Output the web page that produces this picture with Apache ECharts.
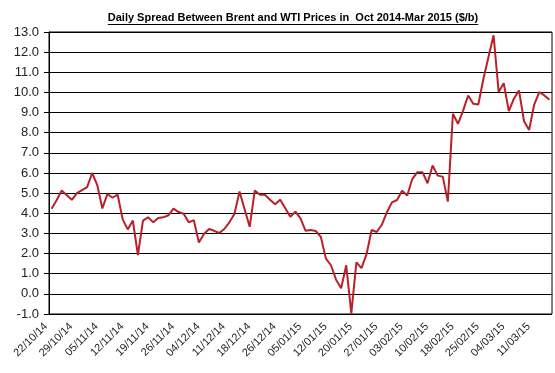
<!DOCTYPE html>
<html>
<head>
<meta charset="utf-8">
<script src="https://cdn.jsdelivr.net/npm/echarts@6/dist/echarts.min.js"></script>
<style>
html,body{margin:0;padding:0;background:#fff;}
#c{width:555px;height:373px;}
</style>
</head>
<body>
<div id="c"></div>
<script>
var titleText = 'Daily Spread Between Brent and WTI Prices in  Oct 2014-Mar 2015 ($/b)';

var dates = [
'22/10/14','23/10/14','24/10/14','27/10/14','28/10/14','29/10/14','30/10/14','31/10/14',
'03/11/14','04/11/14','05/11/14','06/11/14','07/11/14','10/11/14','11/11/14','12/11/14','13/11/14','14/11/14',
'17/11/14','18/11/14','19/11/14','20/11/14','21/11/14','24/11/14','25/11/14','26/11/14','28/11/14',
'01/12/14','02/12/14','03/12/14','04/12/14','05/12/14','08/12/14','09/12/14','10/12/14','11/12/14','12/12/14',
'15/12/14','16/12/14','17/12/14','18/12/14','19/12/14','22/12/14','23/12/14','24/12/14','26/12/14',
'29/12/14','30/12/14','31/12/14','02/01/15','05/01/15','06/01/15','07/01/15','08/01/15','09/01/15',
'12/01/15','13/01/15','14/01/15','15/01/15','16/01/15','20/01/15','21/01/15','22/01/15','23/01/15',
'26/01/15','27/01/15','28/01/15','29/01/15','30/01/15','02/02/15','03/02/15','04/02/15','05/02/15','06/02/15',
'09/02/15','10/02/15','11/02/15','12/02/15','13/02/15','17/02/15','18/02/15','19/02/15','20/02/15',
'23/02/15','24/02/15','25/02/15','26/02/15','27/02/15','02/03/15','03/03/15','04/03/15','05/03/15','06/03/15',
'09/03/15','10/03/15','11/03/15','12/03/15','13/03/15','16/03/15'
];

var spread = [
4.22,4.65,5.13,4.90,4.67,5.00,5.15,5.30,6.00,5.40,
4.24,4.96,4.77,4.93,3.70,3.20,3.64,1.93,3.64,3.80,
3.55,3.77,3.80,3.90,4.23,4.06,3.98,3.55,3.66,2.55,
2.97,3.22,3.13,3.02,3.22,3.55,3.97,5.08,4.20,3.33,
5.13,4.92,4.92,4.67,4.45,4.67,4.25,3.83,4.08,3.75,
3.13,3.17,3.12,2.83,1.75,1.42,0.70,0.28,1.42,-0.97,
1.56,1.28,1.97,3.17,3.07,3.43,4.05,4.54,4.66,5.12,
4.88,5.70,6.04,6.04,5.49,6.37,5.87,5.82,4.58,8.94,
8.44,9.10,9.85,9.44,9.40,10.68,11.76,12.84,10.02,10.46,
9.07,9.69,10.10,8.57,8.14,9.40,10.02,9.85,9.64
];

var yMin = -1, yMax = 13, yStep = 1;

var FONT = '"Liberation Sans", Arial, sans-serif';
var cv = document.createElement('canvas').getContext('2d');
cv.font = 'bold 11px ' + FONT;
var tw = cv.measureText(titleText).width;
var tcx = 293;

var chart = echarts.init(document.getElementById('c'), null, {renderer:'canvas'});
chart.setOption({
  animation: false,
  backgroundColor: '#fff',
  graphic: [
    {type:'text', x: tcx, y: 23, style:{text: titleText, font: 'bold 11px ' + FONT, fill:'#000', align:'center', verticalAlign:'bottom'}},
    {type:'line', shape:{x1: tcx - tw/2, y1: 24.5, x2: tcx + tw/2, y2: 24.5}, style:{stroke:'#000', lineWidth:1}}
  ],
  grid: {left:49, right:3, top:32, bottom:59, show:true, borderColor:'#000', borderWidth:1, backgroundColor:'#fff'},
  xAxis: {
    type:'category', data: dates, boundaryGap:true,
    axisLine:{show:true, lineStyle:{color:'#000', width:1}},
    axisTick:{show:false},
    axisLabel:{interval:4, rotate:45, fontSize:11, fontFamily:FONT, color:'#222', margin:5, padding:[0,8,0,0]}
  },
  yAxis: {
    type:'value', min:yMin, max:yMax, interval:yStep,
    axisLine:{show:true, lineStyle:{color:'#000'}},
    axisTick:{show:true, length:5, lineStyle:{color:'#000'}},
    axisLabel:{fontSize:13, fontFamily:FONT, color:'#222', margin:10, formatter:function(v){return v.toFixed(1);}},
    splitLine:{show:true, lineStyle:{color:'#000', width:1}}
  },
  series: [{
    type:'line', data: spread, showSymbol:false, symbol:'none',
    lineStyle:{color:'#BA2028', width:2}, itemStyle:{color:'#BA2028'}
  }]
});
</script>
</body>
</html>
